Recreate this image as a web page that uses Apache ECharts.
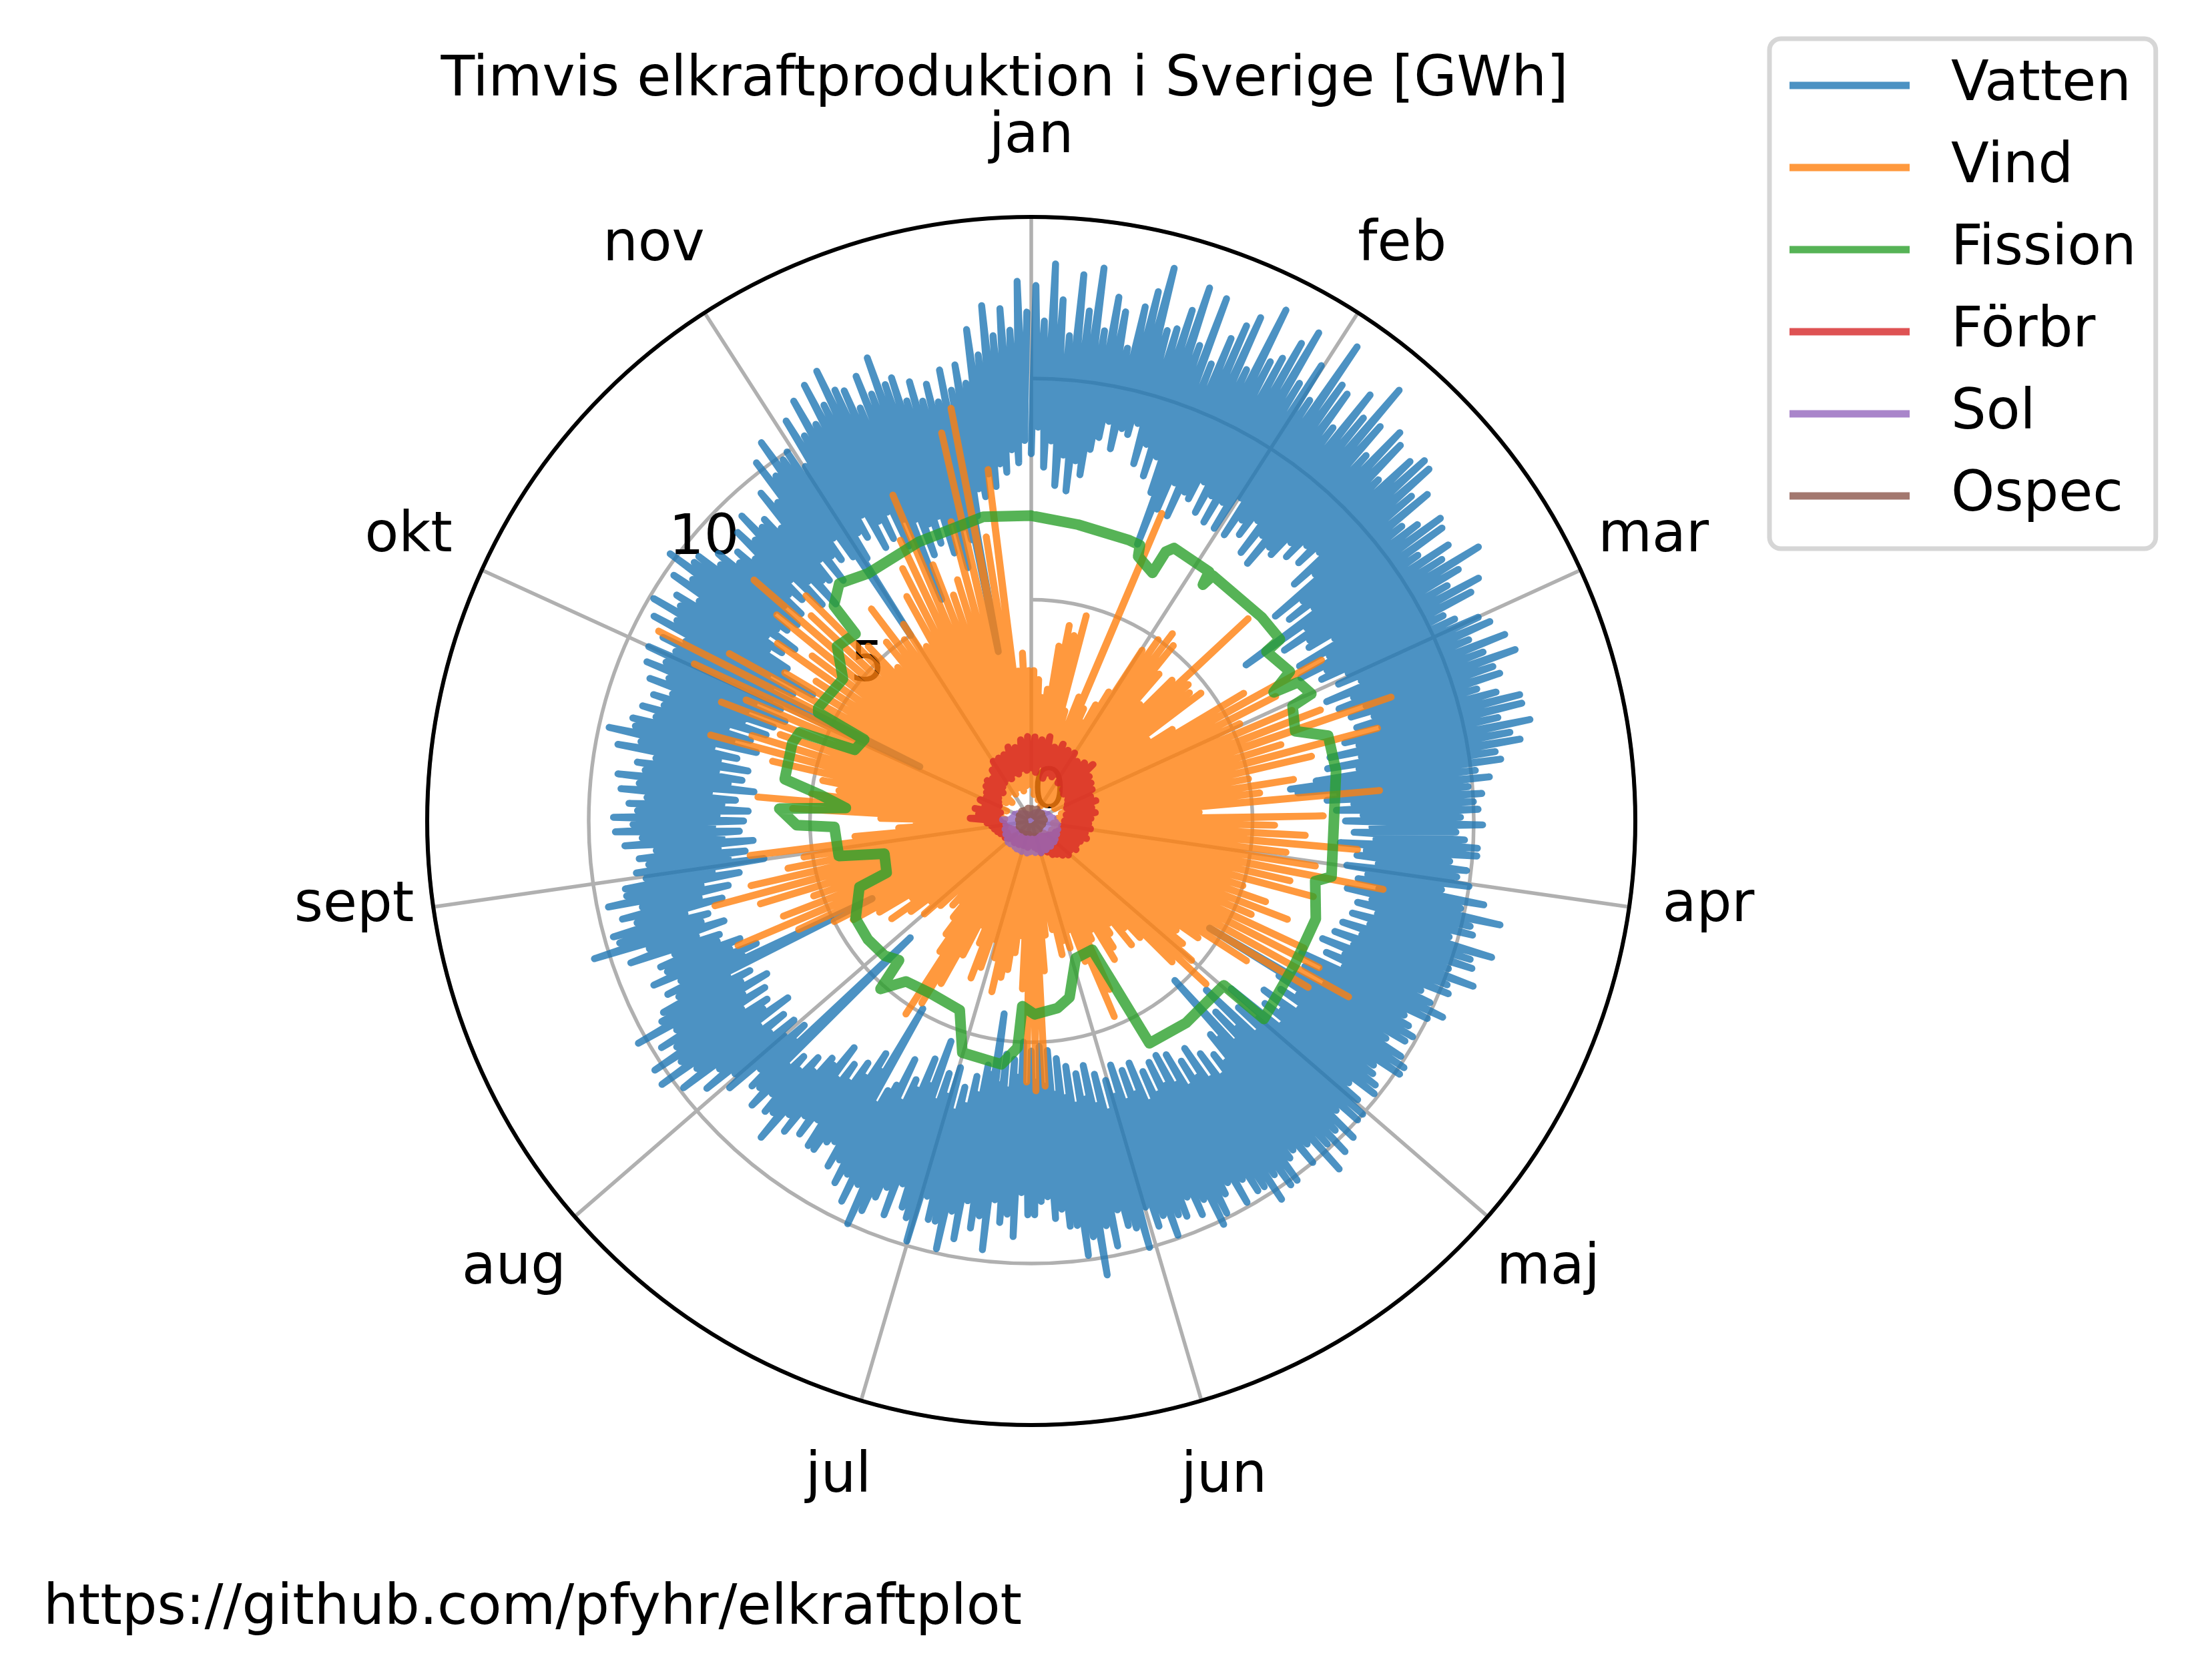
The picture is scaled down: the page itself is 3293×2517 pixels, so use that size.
<!DOCTYPE html>
<html>
<head>
<meta charset="utf-8">
<title>Timvis elkraftproduktion i Sverige</title>
<script src="https://cdn.jsdelivr.net/npm/echarts@6/dist/echarts.min.js"></script>
<style>
  html, body { margin: 0; padding: 0; background: #fff; }
  #chart { width: 3293px; height: 2517px; }
</style>
</head>
<body>
<div id="chart"></div>
<script>
// månader runt cirkeln (dec saknas i originalbilden)
const manader = ['jan', 'feb', 'mar', 'apr', 'maj', 'jun', 'jul', 'aug', 'sept', 'okt', 'nov'];
const rTicks = [0, 5, 10];
const rMax = 13.65;
const serieNamn = ['Vatten', 'Vind', 'Fission', 'Förbr', 'Sol', 'Ospec'];

// Vatten, dygnstopp/dygnsbotten, ett par per grad [GWh]
const vattenHog = [
  12.1, 11.3, 12.6, 11.8, 11.0, 12.4, 11.6, 12.6, 11.2, 12.0,
  11.7, 10.9, 11.9, 12.3, 12.9, 11.5, 11.6, 12.1, 12.7, 11.4,
  12.6, 11.1, 11.8, 12.2, 12.5, 11.3, 12.9, 11.7, 11.9, 12.4,
  12.8, 11.6, 12.2, 11.4, 13.0, 12.1, 12.0, 11.2, 12.3, 11.8,
  12.8, 11.9, 11.2, 12.1, 11.9, 11.0, 11.8, 12.05, 12.0, 11.3,
  11.6, 10.7, 11.0, 11.5, 11.4, 10.6, 11.3, 11.0, 11.85, 11.2,
  10.8, 11.5, 11.2, 10.4, 10.6, 11.1, 11.3, 10.7, 11.5, 10.9,
  11.6, 11.0, 11.1, 10.5, 10.9, 11.4, 11.4, 10.8, 11.5, 11.0,
  11.2, 10.6, 10.7, 10.1, 10.4, 9.9, 10.2, 10.0, 10.1, 9.7,
  10.2, 9.6, 9.8, 10.1, 10.1, 9.5, 9.9, 9.7, 10.0, 9.4,
  10.4, 9.9, 10.85, 10.2, 10.3, 9.8, 10.85, 10.4, 10.5, 10.0,
  10.66, 10.1, 10.2, 9.6, 9.9, 10.3, 10.0, 9.5, 9.7, 9.9,
  9.8, 9.4, 9.9, 10.1, 10.1, 9.5, 9.6, 9.8, 9.9, 9.3,
  9.7, 10.0, 10.0, 9.5, 10.2, 9.8, 10.3, 9.9, 10.5, 9.6,
  10.0, 9.5, 9.6, 10.1, 10.1, 9.7, 10.25, 9.8, 9.8, 9.4,
  9.9, 9.3, 9.5, 9.9, 10.1, 9.4, 9.7, 9.2, 9.6, 9.5,
  9.93, 9.4, 9.6, 9.1, 10.0, 9.5, 9.4, 9.0, 9.8, 9.3,
  10.4, 9.5, 9.9, 9.2, 9.2, 8.8, 9.0, 8.5, 8.6, 8.9,
  8.9, 8.4, 9.4, 8.9, 9.1, 8.6, 9.75, 9.0, 9.3, 8.7,
  9.6, 9.0, 9.9, 9.3, 9.3, 8.8, 9.9, 9.4, 9.2, 8.7,
  9.5, 8.9, 9.2, 9.6, 10.0, 9.1, 9.6, 9.0, 9.3, 8.8,
  9.05, 8.5, 8.6, 8.9, 8.9, 8.3, 8.8, 8.4, 8.96, 8.6,
  9.4, 8.8, 8.9, 8.5, 9.0, 8.6, 8.7, 8.3, 9.1, 8.8,
  9.5, 9.0, 9.9, 9.4, 10.25, 9.6, 10.2, 9.5, 9.8, 9.3,
  10.2, 9.5, 9.37, 8.9, 9.1, 8.7, 9.3, 8.9, 9.0, 8.6,
  9.6, 9.1, 10.35, 9.7, 9.8, 9.2, 9.5, 9.0, 9.75, 9.3,
  9.3, 8.8, 9.0, 8.7, 8.9, 8.5, 9.2, 8.8, 9.4, 9.0,
  9.44, 8.9, 9.1, 8.7, 9.3, 8.9, 9.4, 8.8, 9.0, 8.6,
  9.5, 9.0, 9.77, 9.2, 9.3, 8.8, 9.16, 8.7, 9.0, 8.6,
  9.2, 8.8, 9.4, 9.0, 9.5, 8.9, 9.3, 8.8, 9.7, 9.2,
  9.9, 9.3, 9.5, 9.0, 9.8, 9.4, 10.15, 9.6, 9.6, 9.1,
  9.3, 8.8, 9.0, 8.6, 9.3, 8.9, 9.5, 9.0, 9.1, 8.7,
  9.6, 9.2, 10.2, 9.7, 10.5, 9.9, 10.0, 9.5, 10.6, 10.1,
  10.9, 10.2, 11.1, 10.5, 11.26, 10.7, 10.6, 10.1, 10.8, 10.3,
  11.1, 10.4, 10.5, 9.9, 10.3, 9.8, 10.15, 9.7, 10.4, 9.9,
  10.45, 10.0, 11.2, 10.6, 11.7, 11.0, 11.6, 11.1, 12.2, 11.5
];
const vattenLag = [
  8.3, 8.9, 8.0, 8.6, 7.6, 8.3, 7.5, 8.2, 7.9, 8.5,
  8.8, 9.2, 8.6, 9.1, 9.0, 9.3, 8.4, 8.9, 8.2, 8.7,
  7.9, 6.7, 7.6, 8.3, 7.55, 8.2, 8.1, 8.6, 7.9, 8.4,
  7.8, 8.4, 7.8, 8.7, 7.8, 8.3, 8.0, 8.5, 7.7, 8.3,
  7.6, 8.2, 8.1, 8.6, 8.3, 8.8, 8.4, 8.9, 8.0, 8.5,
  7.2, 7.9, 7.4, 8.0, 6.0, 7.6, 6.9, 7.5, 7.4, 8.0,
  7.0, 7.7, 6.9, 7.5, 7.3, 7.9, 7.6, 8.1, 7.2, 7.8,
  7.4, 8.0, 7.6, 8.1, 7.65, 8.2, 7.3, 7.6, 6.9, 7.6,
  6.8, 7.5, 6.5, 5.9, 6.06, 7.0, 6.7, 7.3, 6.9, 7.5,
  7.1, 7.7, 7.3, 7.8, 7.0, 7.6, 7.4, 7.9, 7.2, 7.7,
  7.5, 8.0, 7.3, 7.9, 7.6, 8.1, 7.55, 8.0, 7.4, 7.9,
  7.3, 7.8, 7.1, 7.7, 7.3, 7.8, 6.8, 7.4, 7.0, 7.6,
  6.9, 4.7, 6.6, 7.2, 6.8, 7.4, 6.5, 7.1, 6.7, 7.3,
  5.9, 6.8, 6.3, 7.0, 5.5, 6.6, 6.0, 6.8, 4.85, 6.5,
  6.3, 7.0, 6.7, 7.2, 6.5, 7.1, 6.2, 6.9, 6.4, 7.0,
  6.1, 6.8, 6.0, 6.7, 6.07, 6.8, 6.2, 6.9, 5.9, 6.6,
  6.0, 6.7, 5.8, 6.5, 6.1, 6.8, 5.9, 6.6, 5.65, 6.4,
  5.8, 6.5, 5.6, 6.3, 5.4, 6.2, 5.2, 6.0, 5.1, 5.9,
  5.2, 6.0, 5.0, 5.8, 5.4, 6.1, 5.3, 6.0, 4.4, 5.8,
  5.6, 6.3, 5.9, 6.6, 6.2, 6.8, 5.8, 6.5, 6.0, 6.7,
  5.3, 6.4, 5.8, 6.6, 6.4, 7.0, 6.0, 6.7, 6.9, 7.3,
  4.9, 6.6, 6.2, 6.9, 6.6, 7.2, 6.8, 7.3, 6.5, 7.1,
  7.0, 7.5, 7.2, 7.7, 7.4, 7.8, 3.8, 7.3, 6.9, 7.4,
  7.0, 7.6, 7.1, 7.7, 6.8, 7.4, 7.2, 7.8, 7.1, 7.6,
  6.9, 7.5, 7.2, 7.7, 4.0, 7.2, 6.8, 7.4, 7.1, 7.6,
  7.5, 8.0, 7.3, 7.8, 7.6, 8.1, 7.2, 7.7, 7.0, 7.6,
  6.7, 7.3, 6.1, 6.9, 6.5, 7.1, 6.3, 7.0, 6.6, 7.2,
  6.5, 7.1, 6.4, 7.0, 6.7, 7.3, 6.3, 6.9, 6.6, 7.2,
  6.5, 7.2, 6.8, 7.4, 6.4, 7.0, 6.6, 7.2, 6.3, 6.9,
  6.2, 6.9, 6.0, 6.8, 6.2, 6.5, 2.8, 6.6, 6.1, 6.8,
  5.7, 6.6, 6.5, 7.1, 6.8, 7.3, 6.6, 7.2, 7.0, 7.5,
  6.9, 7.4, 7.0, 7.5, 7.2, 7.7, 6.8, 7.4, 6.6, 7.2,
  7.1, 7.6, 6.9, 7.5, 7.3, 7.8, 7.2, 5.0, 7.0, 7.6,
  7.4, 7.9, 7.0, 7.6, 7.1, 7.7, 6.8, 7.4, 5.4, 7.3,
  6.4, 7.1, 6.6, 7.2, 6.3, 7.0, 5.9, 6.8, 6.5, 3.9,
  7.0, 7.6, 7.4, 7.9, 7.6, 8.1, 7.9, 8.4, 8.1, 8.6
];

// Vind, topp/botten per ca 2 dygn
const vindHog = [
  3.4, 3.2, 2.8, 3.0, 4.0, 4.5, 4.3, 4.8, 2.6, 2.2,
  3.0, 7.55, 2.8, 2.5, 3.0, 3.4, 4.6, 5.0, 5.3, 5.1,
  4.4, 3.6, 4.5, 6.7, 4.7, 4.6, 4.8, 3.2, 3.8, 5.6,
  7.5, 6.2, 5.2, 6.4, 7.0, 8.6, 5.9, 8.1, 6.5, 5.0,
  6.0, 5.2, 7.9, 3.8, 6.6, 5.5, 6.2, 7.4, 5.8, 6.5,
  8.1, 6.0, 6.6, 5.0, 5.6, 6.2, 5.4, 6.8, 7.3, 8.2,
  7.3, 5.8, 4.6, 4.1, 4.4, 4.8, 5.4, 4.5, 3.6, 3.2,
  3.6, 2.9, 3.1, 3.4, 3.65, 2.8, 3.0, 4.2, 4.8, 3.4,
  2.6, 3.0, 2.8, 3.1, 2.5, 2.2, 2.6, 3.4, 6.0, 6.1,
  5.9, 3.8, 2.6, 3.0, 3.4, 3.6, 3.96, 3.2, 2.8, 3.5,
  3.8, 3.0, 2.6, 3.4, 4.2, 4.8, 5.2, 3.6, 3.2, 2.8,
  2.4, 2.6, 2.2, 2.8, 3.2, 2.9, 3.4, 3.85, 3.2, 4.0,
  4.6, 5.0, 5.8, 7.2, 6.0, 5.2, 6.4, 7.4, 6.5, 5.6,
  5.2, 6.4, 4.0, 3.0, 2.6, 3.4, 5.4, 6.2, 5.0, 4.4,
  4.8, 6.0, 7.5, 6.6, 6.0, 7.5, 7.0, 8.4, 9.45, 7.8,
  6.5, 5.8, 7.0, 6.2, 7.4, 8.3, 6.8, 7.2, 5.4, 4.6,
  5.2, 6.0, 5.0, 5.3, 4.6, 5.8, 6.4, 7.0, 8.0, 6.2,
  5.4, 5.7, 7.0, 9.0, 9.5, 6.5, 8.0, 3.4, 3.8, 3.4
];
const vindLag = [
  1.2, 0.8, 1.5, 0.6, 1.0, 0.9, 1.4, 0.7, 1.1, 0.5,
  1.3, 0.9, 0.6, 1.2, 0.8, 1.0, 0.4, 1.1, 0.7, 1.3,
  0.9, 0.5, 1.2, 0.8, 1.4, 0.6, 1.0, 0.7, 1.5, 0.9,
  1.1, 0.6, 1.3, 0.8, 1.0, 1.6, 0.9, 1.2, 0.7, 1.0,
  0.8, 1.3, 0.6, 1.1, 0.9, 1.4, 0.7, 1.0, 0.5, 1.2,
  0.8, 1.1, 0.6, 0.9, 1.3, 0.7, 1.0, 0.5, 1.2, 0.9,
  0.6, 1.0, 0.8, 0.5, 1.1, 0.7, 0.9, 0.4, 0.8, 0.6,
  1.0, 0.5, 0.7, 0.9, 0.4, 0.8, 0.6, 0.5, 0.9, 0.7,
  0.5, 0.8, 0.4, 0.7, 0.6, 0.9, 0.5, 0.7, 0.4, 0.8,
  0.6, 0.5, 0.8, 0.4, 0.7, 0.6, 0.9, 0.5, 0.7, 0.4,
  0.8, 0.6, 0.5, 0.9, 0.7, 0.4, 0.8, 0.6, 1.0, 0.5,
  0.7, 0.9, 0.6, 0.8, 0.5, 1.0, 0.7, 0.9, 0.6, 1.1,
  0.8, 1.0, 0.6, 1.2, 0.9, 0.7, 1.1, 0.8, 1.3, 0.6,
  1.0, 0.9, 1.2, 0.7, 1.0, 0.8, 1.3, 0.6, 1.1, 0.9,
  1.2, 0.7, 1.0, 1.4, 0.8, 1.1, 0.6, 1.3, 0.9, 1.5,
  0.8, 1.2, 1.0, 0.7, 1.4, 0.9, 1.1, 0.6, 1.3, 1.0,
  0.8, 1.2, 1.5, 0.9, 1.1, 0.7, 1.3, 1.0, 1.6, 0.8,
  1.2, 0.9, 1.4, 0.7, 1.1, 1.3, 0.8, 1.0, 1.2, 0.9
];

// Fission: brytpunkter (dag på året, GWh)
const fissionDag = [
  0, 9.1, 19.3, 21.8, 22.3, 26.4, 26.9, 28.0, 36.0, 36.5, 37.0, 49.1, 54.6, 55.0,
  60.8, 62.9, 63.4, 66.5, 67.2, 72.2, 75.0, 81.8, 101.9, 103.4, 110.5, 120.3, 132.2, 132.3,
  144.5, 154.1, 155.5, 156.8, 164.3, 170.1, 174.4, 181.5, 185.3, 186.0, 189.6, 199.3, 203.5,
  212.9, 221.0, 225.0, 226.6, 230.6, 237.3, 244.3, 252.4, 253.8, 261.0, 263.3, 272.0, 272.7,
  276.6, 277.8, 280.9, 283.5, 292.0, 295.0, 296.0, 300.1, 301.1, 302.1, 311.3, 316.3, 321.2,
  321.9, 325.5, 331.1, 342.7, 355.9, 365
];
const fissionGWh = [
  6.9, 6.78, 6.72, 6.7, 6.45, 6.24, 6.8, 6.96, 6.92, 6.6, 6.9, 6.95, 6.96, 6.55,
  6.75, 6.2, 6.8, 6.95, 6.45, 6.3, 6.98, 6.98, 6.9, 6.56, 6.8, 6.78, 6.9, 5.72,
  5.75, 5.69, 4.04, 3.22, 3.26, 4.08, 4.27, 4.37, 4.19, 5.13, 5.54, 5.46, 4.57,
  4.51, 4.6, 5.1, 4.34, 4.5, 4.56, 4.54, 4.16, 3.47, 3.4, 4.42, 4.45, 5.3,
  5.7, 4.2, 4.8, 5.65, 5.68, 5.6, 4.3, 4.2, 5.4, 5.45, 5.33, 5.9, 5.8,
  6.6, 6.9, 6.7, 6.8, 6.96, 6.9
];

// Förbränning, topp/botten per ca 5 dygn
const forbrHog = [
  1.9, 1.85, 1.95, 1.75, 1.88, 1.8, 1.82, 1.7, 1.78, 1.89, 1.65, 1.6,
  1.55, 1.45, 1.53, 1.4, 1.46, 1.35, 1.3, 1.35, 1.25, 1.31, 1.2, 1.15,
  1.2, 1.1, 1.14, 1.05, 0.95, 0.9, 0.79, 0.7, 0.75, 0.65, 0.6, 0.55,
  0.55, 0.6, 0.5, 0.58, 0.52, 0.6, 0.55, 0.62, 0.58, 0.6, 0.65, 0.7,
  0.62, 0.75, 0.8, 0.85, 0.9, 1.0, 1.38, 1.2, 1.3, 1.1, 1.25, 1.15,
  1.2, 1.29, 1.35, 1.3, 1.45, 1.6, 1.6, 1.62, 1.75, 1.7, 1.85, 1.91
];
const forbrLag = [
  1.2, 1.1, 1.3, 1.0, 1.15, 1.1, 1.2, 1.05, 1.1, 1.0, 0.95, 1.0,
  0.95, 0.9, 0.85, 0.9, 0.8, 0.85, 0.75, 0.8, 0.7, 0.72, 0.65, 0.6,
  0.6, 0.55, 0.5, 0.52, 0.45, 0.42, 0.4, 0.38, 0.4, 0.35, 0.36, 0.34,
  0.35, 0.32, 0.3, 0.34, 0.32, 0.35, 0.33, 0.36, 0.35, 0.38, 0.4, 0.42,
  0.4, 0.45, 0.5, 0.55, 0.6, 0.62, 0.7, 0.75, 0.8, 0.72, 0.85, 0.8,
  0.85, 0.9, 0.95, 0.9, 1.0, 1.05, 1.1, 1.05, 1.15, 1.1, 1.2, 1.15
];

// Sol: dagtopp och natt (noll)
const solHog = [
  0.12, 0.15, 0.1, 0.18, 0.2, 0.15, 0.22, 0.25, 0.2, 0.28, 0.3, 0.32,
  0.35, 0.4, 0.38, 0.45, 0.5, 0.48, 0.55, 0.6, 0.58, 0.63, 0.6, 0.65,
  0.62, 0.68, 0.7, 0.65, 0.72, 0.7, 0.73, 0.68, 0.75, 0.7, 0.72, 0.68,
  0.7, 0.73, 0.68, 0.72, 0.7, 0.71, 0.69, 0.65, 0.7, 0.71, 0.68, 0.62,
  0.65, 0.6, 0.62, 0.55, 0.58, 0.5, 0.65, 0.45, 0.42, 0.38, 0.4, 0.35,
  0.3, 0.28, 0.25, 0.22, 0.2, 0.18, 0.15, 0.12, 0.1, 0.12, 0.1, 0.08
];
const solLag = [
  0, 0, 0, 0, 0, 0, 0, 0, 0, 0, 0, 0,
  0, 0, 0, 0, 0, 0, 0, 0, 0, 0, 0, 0,
  0, 0, 0, 0, 0, 0, 0, 0, 0, 0, 0, 0,
  0, 0, 0, 0, 0, 0, 0, 0, 0, 0, 0, 0,
  0, 0, 0, 0, 0, 0, 0, 0, 0, 0, 0, 0,
  0, 0, 0, 0, 0, 0, 0, 0, 0, 0, 0, 0
];

// Ospecificerat
const ospecHog = [
  0.28, 0.25, 0.3, 0.27, 0.26, 0.29, 0.25, 0.28, 0.3, 0.26, 0.27, 0.25,
  0.24, 0.26, 0.23, 0.25, 0.27, 0.24, 0.26, 0.25, 0.28, 0.26, 0.29, 0.27,
  0.3, 0.28, 0.26, 0.29, 0.27, 0.3, 0.28, 0.31, 0.29, 0.27, 0.3, 0.28
];
const ospecLag = [
  0.16, 0.14, 0.18, 0.15, 0.13, 0.17, 0.15, 0.16, 0.18, 0.14, 0.15, 0.13,
  0.12, 0.14, 0.11, 0.13, 0.15, 0.12, 0.14, 0.13, 0.16, 0.14, 0.17, 0.15,
  0.18, 0.16, 0.14, 0.17, 0.15, 0.18, 0.16, 0.19, 0.17, 0.15, 0.18, 0.16
];

const farger = {
  Vatten: 'rgba(31,119,180,0.8)',
  Vind: 'rgba(255,127,14,0.8)',
  Fission: 'rgba(44,160,44,0.8)',
  'Förbr': 'rgba(214,39,40,0.8)',
  Sol: 'rgba(148,103,189,0.8)',
  Ospec: 'rgba(140,86,75,0.8)'
};

// extra utfyllnad per månadsetikett [top, right, bottom, left] så de hamnar som i matplotlib
const etikettPadding = [
  [0, 0, 70, 0], [0, 0, 52, 0], [0, 0, 1, 26], [34, 0, 0, 50], [30, 0, 0, 13], [67, 0, 0, 68],
  [67, 68, 0, 0], [30, 13, 0, 0], [34, 29, 0, 0], [0, 44, 1, 0], [0, 0, 52, 0]
];

// lägg botten/topp omväxlande jämnt över året -> [radie, dag]
function sicksack(lag, hog) {
  const n = lag.length;
  const ut = [];
  for (let i = 0; i < n; i++) {
    ut.push([lag[i], (2 * i) * 365 / (2 * n)]);
    ut.push([hog[i], (2 * i + 1) * 365 / (2 * n)]);
  }
  return ut;
}

function linje(namn, data, bredd) {
  return {
    name: namn,
    type: 'line',
    coordinateSystem: 'polar',
    polarIndex: 1,
    data: data,
    symbol: 'none',
    showSymbol: false,
    silent: true,
    z: 3,
    lineStyle: { color: farger[namn], width: bredd, cap: 'round', join: 'round' },
    itemStyle: { color: farger[namn] }
  };
}

const font = 'DejaVu Sans';
const mitt = [1545, 1230];
const radie = [0, 905];

const chart = echarts.init(document.getElementById('chart'), null, { renderer: 'canvas' });

chart.setOption({
  animation: false,
  backgroundColor: '#fff',
  title: [
    {
      text: 'Timvis elkraftproduktion i Sverige [GWh]',
      left: 1505, top: 80, textAlign: 'center', padding: 0,
      textStyle: { fontSize: 83, fontWeight: 'normal', fontFamily: font, color: '#000', lineHeight: 83 }
    },
    {
      text: 'https://github.com/pfyhr/elkraftplot',
      left: 65, top: 2370, padding: 0,
      textStyle: { fontSize: 83, fontWeight: 'normal', fontFamily: font, color: '#000', lineHeight: 83 }
    }
  ],
  legend: {
    data: serieNamn,
    orient: 'vertical',
    left: 2651, top: 58,
    padding: [20, 29, 29, 30],
    itemGap: 23,
    itemWidth: 180,
    itemHeight: 11,
    icon: 'rect',
    selectedMode: false,
    backgroundColor: '#fff',
    borderColor: '#d6d6d6',
    borderWidth: 7,
    borderRadius: 17,
    textStyle: { fontSize: 83, fontFamily: font, color: '#000', lineHeight: 100, padding: [0, 0, 0, 57] }
  },
  polar: [
    { center: mitt, radius: radie },
    { center: mitt, radius: radie },
    { center: mitt, radius: radie }
  ],
  angleAxis: [
    {
      polarIndex: 0, type: 'category', boundaryGap: false,
      data: manader.map((m, i) => ({ value: m, textStyle: { padding: etikettPadding[i] } })),
      startAngle: 90, clockwise: true, z: 0,
      axisLine: { show: false },
      axisTick: { show: false },
      axisLabel: { interval: 0, margin: 0, fontSize: 83, lineHeight: 97, fontFamily: font, color: '#000' },
      splitLine: { show: true, interval: 0, lineStyle: { color: '#b0b0b0', width: 5.5 } }
    },
    {
      polarIndex: 1, type: 'value', min: 0, max: 365, startAngle: 90, clockwise: true, z: 1,
      axisLine: { show: true, lineStyle: { color: '#000', width: 6 } },
      axisTick: { show: false }, axisLabel: { show: false }, splitLine: { show: false }
    },
    { polarIndex: 2, type: 'value', min: 0, max: 360, startAngle: 145, show: false }
  ],
  radiusAxis: [
    {
      polarIndex: 0, type: 'value', min: 0, max: rMax, interval: 5, z: 0,
      axisLine: { show: false }, axisTick: { show: false }, axisLabel: { show: false },
      splitLine: { show: true, lineStyle: { color: '#b0b0b0', width: 5.5 } }
    },
    { polarIndex: 1, type: 'value', min: 0, max: rMax, show: false },
    {
      polarIndex: 2, type: 'value', min: 0, max: rMax, interval: 5, z: 1,
      axisLine: { show: false }, axisTick: { show: false }, splitLine: { show: false },
      axisLabel: {
        margin: 0, align: 'left', verticalAlign: 'bottom',
        fontSize: 83, fontFamily: font, color: '#000',
        formatter: v => (rTicks.indexOf(v) >= 0 ? String(v) : '')
      }
    }
  ],
  series: [
    linje('Vatten', sicksack(vattenLag, vattenHog), 10.4),
    linje('Vind', sicksack(vindLag, vindHog), 10.4),
    linje('Fission', fissionGWh.map((v, i) => [v, fissionDag[i]]), 16),
    linje('Förbr', sicksack(forbrLag, forbrHog), 10.4),
    linje('Sol', sicksack(solLag, solHog), 10.4),
    linje('Ospec', sicksack(ospecLag, ospecHog), 10.4)
  ]
});
</script>
</body>
</html>
